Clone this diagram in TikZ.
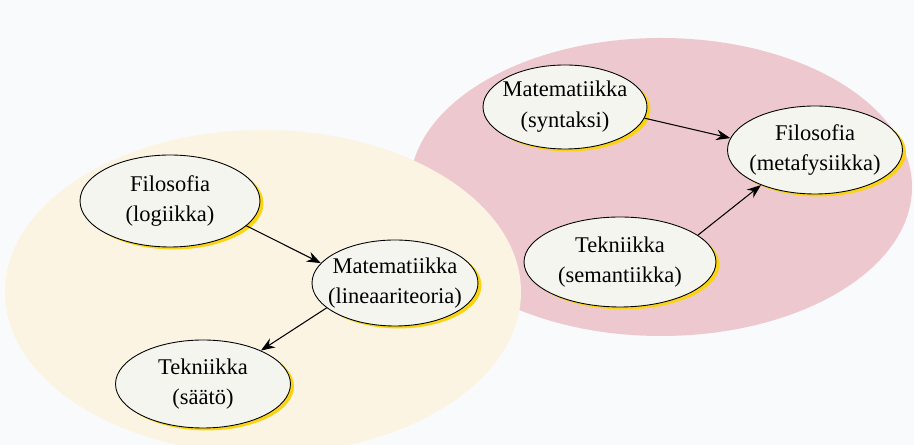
\documentclass[tikz,border=0pt]{standalone}
\usepackage{fontspec}
\setmainfont{Liberation Serif}
\usepackage{tikz}
\usetikzlibrary{positioning,shapes.geometric,shadows,arrows.meta}
\definecolor{pagebg}{RGB}{249,250,251}
\definecolor{creamarea}{RGB}{251,244,226}
\definecolor{pinkarea}{RGB}{238,200,207}
\definecolor{topicfill}{RGB}{245,245,240}
\definecolor{topicshadow}{RGB}{250,212,20}
\tikzset{
	field map/.style={
		x=0.02cm, y=-0.02cm,
		font=\fontsize{12.8}{17.5}\selectfont
	},
	topic/.style={
		ellipse,
		draw,
		line width=0.5pt,
		fill=topicfill,
		inner xsep=-0.6cm, % text may run past the inscribed box
		inner ysep=0pt,
		align=center,
		minimum width=3.5cm,
		minimum height=1.76cm,
		general shadow={fill=topicshadow, shadow xshift=2pt, shadow yshift=-1.4pt}
	},
	link/.style={
		-{Stealth[length=8pt,width=6pt]},
		line width=0.6pt
	}
}

\begin{document}
\begin{tikzpicture}[field map]
	\fill[pagebg] (0,0) rectangle (914,445);
	\useasboundingbox (0,0) rectangle (914,445);
	% the two areas
	\fill[pinkarea] (661,187) ellipse [x radius=251, y radius=149];
	\fill[creamarea] (263,292) ellipse [x radius=258, y radius=162];
	% left area
	\node[topic,minimum width=3.6cm,minimum height=1.84cm] (fl) at (170,201) {Filosofia\\(logiikka)};
	\node[topic,minimum width=3.32cm,minimum height=1.72cm] (ml) at (395,283) {Matematiikka\\(lineaariteoria)};
	\node[topic] (ts) at (203,384) {Tekniikka\\(säätö)};
	% right area
	\node[topic,minimum width=3.28cm,minimum height=1.68cm] (ms) at (565,107) {Matematiikka\\(syntaksi)};
	\node[topic] (fm) at (815,150) {Filosofia\\(metafysiikka)};
	\node[topic,minimum width=3.84cm,minimum height=1.8cm] (tm) at (620,262) {Tekniikka\\(semantiikka)};
	\draw[link] (fl.-18) -- (ml.165);
	\draw[link] (ml.200) -- (ts.30);
	\draw[link] (ms.-8) -- (fm.172);
	\draw[link] (tm.19) -- (fm.213);
\end{tikzpicture}
\end{document}
